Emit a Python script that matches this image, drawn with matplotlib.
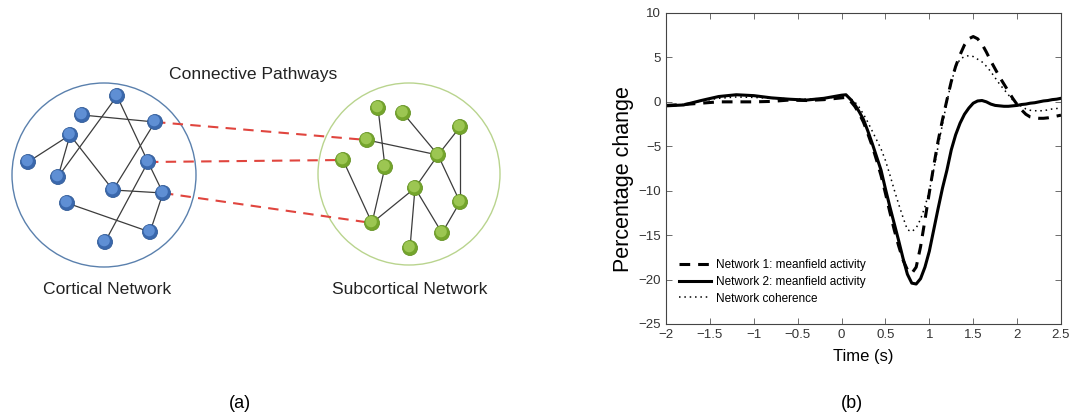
import numpy as np
import matplotlib.pyplot as plt
from matplotlib.patches import Circle

plt.rcParams['font.family'] = ['Liberation Sans', 'DejaVu Sans']

# ---- panel (a): network diagram (pixel-like layout coordinates) ----
cort_nodes = [(117, 96), (82, 115), (155, 122), (70, 135), (28, 162), (58, 177),
              (148, 162), (113, 190), (163, 193), (67, 203), (150, 232), (105, 242)]
cort_edges = [(1, 2), (0, 6), (0, 5), (3, 4), (3, 5), (3, 7), (2, 7), (7, 8),
              (6, 8), (6, 11), (8, 10), (9, 10)]
sub_nodes = [(378, 108), (403, 113), (460, 127), (367, 140), (438, 155), (343, 160),
             (385, 167), (415, 188), (460, 202), (372, 223), (442, 233), (410, 248)]
sub_edges = [(0, 6), (1, 4), (3, 4), (2, 4), (2, 8), (4, 7), (4, 8), (5, 9),
             (6, 9), (9, 7), (7, 11), (7, 10), (8, 10)]
pathways = [(2, 3), (6, 5), (8, 9)]  # cortical node -> subcortical node

# ---- panel (b): time courses ----
time_s = [-2.0, -1.8, -1.6, -1.4, -1.2, -1.0, -0.8, -0.6, -0.4, -0.2,
          0.0, 0.05, 0.1, 0.15, 0.2, 0.25, 0.3, 0.35, 0.4, 0.45,
          0.5, 0.55, 0.6, 0.65, 0.7, 0.75, 0.8, 0.85, 0.9, 0.95,
          1.0, 1.05, 1.1, 1.15, 1.2, 1.25, 1.3, 1.35, 1.4, 1.45,
          1.5, 1.55, 1.6, 1.65, 1.7, 1.75, 1.8, 1.85, 1.9, 1.95,
          2.0, 2.05, 2.1, 2.15, 2.2, 2.25, 2.3, 2.35, 2.4, 2.45, 2.5]
net1 = [-0.4, -0.3, -0.15, 0.0, 0.0, 0.0, 0.05, 0.2, 0.15, 0.25,
        0.45, 0.5, 0.1, -0.5, -1.3, -2.3, -3.6, -5.0, -6.6, -8.3,
        -10.3, -12.4, -14.4, -16.2, -17.8, -18.9, -19.3, -18.6, -16.3, -13.3,
        -10.2, -7.2, -4.4, -2.0, 0.2, 2.3, 4.0, 5.3, 6.4, 7.1,
        7.35, 7.1, 6.5, 5.6, 4.6, 3.7, 2.8, 2.0, 1.2, 0.4,
        -0.3, -0.9, -1.4, -1.7, -1.8, -1.85, -1.85, -1.8, -1.7, -1.6, -1.5]
net2 = [-0.45, -0.35, 0.15, 0.6, 0.8, 0.7, 0.45, 0.3, 0.2, 0.4,
        0.75, 0.8, 0.3, -0.3, -1.1, -2.0, -3.3, -4.7, -6.2, -7.7,
        -9.8, -11.8, -13.7, -15.6, -17.6, -19.4, -20.4, -20.5, -19.9, -18.6,
        -16.8, -14.4, -12.0, -9.7, -7.7, -5.4, -3.7, -2.4, -1.4, -0.7,
        -0.15, 0.1, 0.15, 0.0, -0.25, -0.4, -0.45, -0.5, -0.5, -0.45,
        -0.4, -0.3, -0.25, -0.15, -0.1, 0.0, 0.1, 0.15, 0.25, 0.3, 0.4]
coherence = [-0.4, -0.3, 0.1, 0.4, 0.55, 0.5, 0.4, 0.35, 0.3, 0.4,
             0.6, 0.7, 0.4, 0.0, -0.6, -1.4, -2.3, -3.3, -4.3, -5.3,
             -6.6, -8.2, -9.9, -11.5, -13.0, -14.4, -14.6, -14.2, -13.2, -11.8,
             -10.0, -7.6, -5.0, -2.5, 0.0, 2.2, 3.9, 4.8, 5.1, 5.2,
             5.1, 4.8, 4.5, 4.0, 3.4, 2.7, 2.0, 1.4, 0.8, 0.2,
             -0.2, -0.5, -0.8, -0.95, -1.0, -1.0, -1.0, -0.9, -0.8, -0.75, -0.7]

fig = plt.figure(figsize=(10.8, 4.18), dpi=100)

# ---------------- (a) ----------------
axa = fig.add_axes([0, 0, 0.5, 1])
axa.set_xlim(0, 540)
axa.set_ylim(418, 0)
axa.set_aspect('equal')
axa.axis('off')

axa.add_patch(Circle((104, 175), 92, fill=False, ec='#5a80ad', lw=1.0))
axa.add_patch(Circle((409, 174), 91, fill=False, ec='#b9d48e', lw=1.0))

for i, j in cort_edges:
    axa.plot([cort_nodes[i][0], cort_nodes[j][0]], [cort_nodes[i][1], cort_nodes[j][1]],
             color='#3c3c3c', lw=0.9, zorder=2)
for i, j in sub_edges:
    axa.plot([sub_nodes[i][0], sub_nodes[j][0]], [sub_nodes[i][1], sub_nodes[j][1]],
             color='#3c3c3c', lw=0.9, zorder=2)
for i, j in pathways:
    axa.plot([cort_nodes[i][0], sub_nodes[j][0]], [cort_nodes[i][1], sub_nodes[j][1]],
             color='#e0453e', lw=1.5, dashes=(5, 3.5), zorder=1)

for x, y in cort_nodes:
    axa.add_patch(Circle((x, y), 7.5, fc='#3a68ad', ec='#325c98', lw=0.6, zorder=3))
    axa.add_patch(Circle((x - 0.8, y - 1.3), 5.6, fc='#5f8fd4', ec='none', zorder=4))
for x, y in sub_nodes:
    axa.add_patch(Circle((x, y), 7.5, fc='#74a52b', ec='#679426', lw=0.6, zorder=3))
    axa.add_patch(Circle((x - 0.8, y - 1.3), 5.6, fc='#9cc652', ec='none', zorder=4))

axa.text(253, 75, 'Connective Pathways', ha='center', va='center', fontsize=12.6, color='#222222')
axa.text(107, 290, 'Cortical Network', ha='center', va='center', fontsize=12.6, color='#222222')
axa.text(410, 290, 'Subcortical Network', ha='center', va='center', fontsize=12.6, color='#222222')

# ---------------- (b) ----------------
ax = fig.add_axes([0.6167, 0.2249, 0.3657, 0.744])
ax.plot(time_s, net1, color='black', lw=2.2, dashes=(3.5, 2.6), label='Network 1: meanfield activity')
ax.plot(time_s, net2, color='black', lw=2.2, label='Network 2: meanfield activity')
ax.plot(time_s, coherence, color='black', lw=1.1, ls=(0, (1, 2.5)), label='Network coherence')

ax.set_xlim(-2, 2.5)
ax.set_ylim(-25, 10)
ax.set_xticks([-2, -1.5, -1, -0.5, 0, 0.5, 1, 1.5, 2, 2.5])
ax.set_xticklabels(['\u22122', '\u22121.5', '\u22121', '\u22120.5', '0', '0.5', '1', '1.5', '2', '2.5'])
ax.set_yticks([-25, -20, -15, -10, -5, 0, 5, 10])
ax.set_yticklabels(['\u221225', '\u221220', '\u221215', '\u221210', '\u22125', '0', '5', '10'])
ax.tick_params(direction='in', length=4, width=0.6, top=True, right=True,
               labelsize=9.5, labelcolor='#333333', color='#555555')
for s in ax.spines.values():
    s.set_linewidth(0.8)
    s.set_color('#444444')
ax.set_xlabel('Time (s)', fontsize=12, labelpad=6)
ax.set_ylabel('Percentage change', fontsize=15.5)
ax.yaxis.set_label_coords(-0.08, 0.466)

ax.legend(loc='upper left', bbox_to_anchor=(0.033, 0.21), frameon=False, fontsize=8.5,
          borderpad=0, borderaxespad=0, handlelength=2.7, handletextpad=0.45, labelspacing=0.42)

fig.text(240 / 1080, 1 - 403 / 418, '(a)', ha='center', va='center', fontsize=13)
fig.text(852 / 1080, 1 - 403 / 418, '(b)', ha='center', va='center', fontsize=13)

fig.savefig('out.png', dpi=100, facecolor='white')
